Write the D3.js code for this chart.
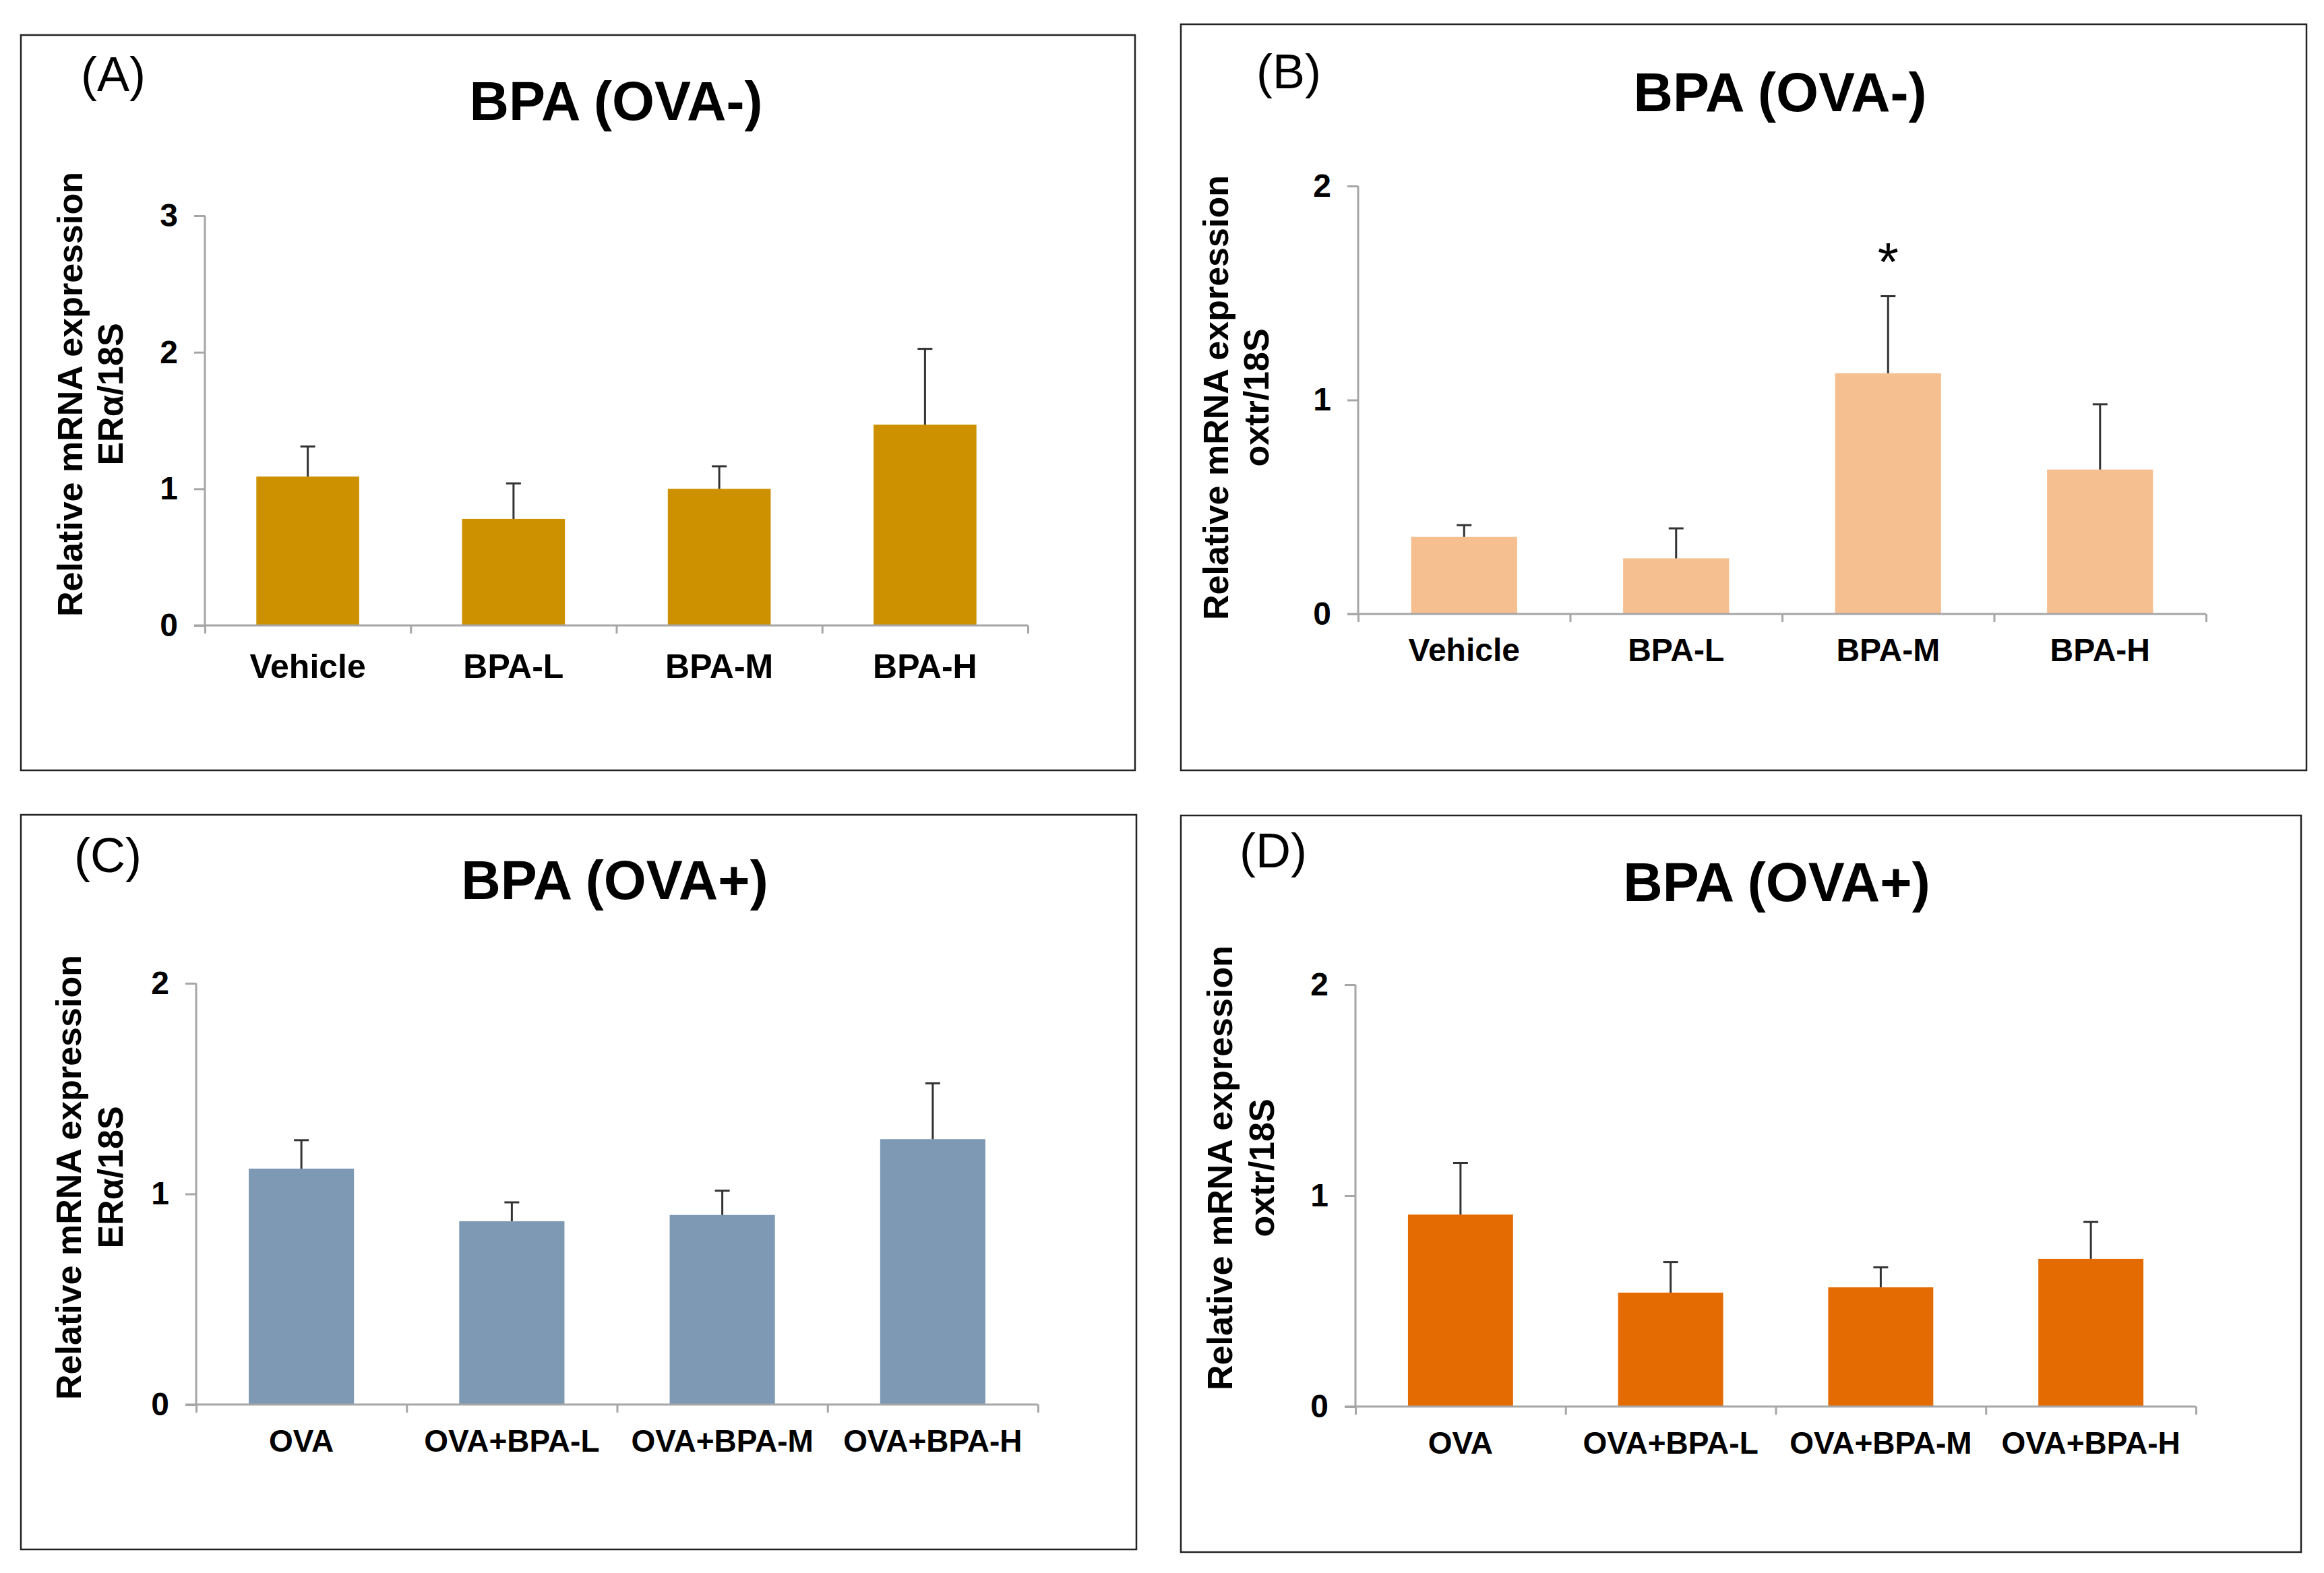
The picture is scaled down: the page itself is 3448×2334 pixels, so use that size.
<!DOCTYPE html>
<html>
<head>
<meta charset="utf-8">
<script src="https://cdn.jsdelivr.net/npm/d3@7"></script>
<style>
  body { margin: 0; background: #fff; }
  svg { display: block; }
  text { font-family: "Liberation Sans", Arial, sans-serif; }
</style>
</head>
<body>
<div id="viz"></div>
<script>
// categories
const catsOvaMinus = ["Vehicle", "BPA-L", "BPA-M", "BPA-H"];
const catsOvaPlus = ["OVA", "OVA+BPA-L", "OVA+BPA-M", "OVA+BPA-H"];

// (A) ERa/18S, OVA-
const meanA = [1.09, 0.78, 1.00, 1.47];
const errA = [0.22, 0.26, 0.165, 0.555];
// (B) oxtr/18S, OVA-
const meanB = [0.36, 0.26, 1.125, 0.675];
const errB = [0.055, 0.14, 0.36, 0.305];
const sigB = ["", "", "*", ""];
// (C) ERa/18S, OVA+
const meanC = [1.12, 0.87, 0.90, 1.26];
const errC = [0.135, 0.09, 0.115, 0.265];
// (D) oxtr/18S, OVA+
const meanD = [0.91, 0.54, 0.565, 0.70];
const errD = [0.245, 0.145, 0.095, 0.175];

const ticksA = [0, 1, 2, 3];
const ticks2 = [0, 1, 2];

const W = 3448, H = 2334;
const svg = d3.select("#viz").append("svg")
  .attr("width", W)
  .attr("height", H);

function drawPanel(p) {
  const g = svg.append("g");

  // frame
  g.append("rect")
    .attr("x", p.box[0]).attr("y", p.box[1])
    .attr("width", p.box[2] - p.box[0]).attr("height", p.box[3] - p.box[1])
    .attr("fill", "none").attr("stroke", "#222").attr("stroke-width", 2.5);

  // letter + title
  g.append("text")
    .attr("x", p.letterPos[0]).attr("y", p.letterPos[1])
    .style("font-size", "72px")
    .text(p.letter);

  g.append("text")
    .attr("x", p.titlePos[0]).attr("y", p.titlePos[1])
    .attr("text-anchor", "middle")
    .style("font-size", "81px")
    .style("font-weight", "bold")
    .text(p.title);

  const y = d3.scaleLinear().domain([0, d3.max(p.ticks)]).range([p.zero, p.top]);
  const x = d3.scaleBand().domain(p.cats).range([p.left, p.right])
    .paddingInner(0.5).paddingOuter(0.25);
  const xb = d3.scaleLinear().domain([0, p.cats.length]).range([p.left, p.right]);

  // bars
  g.selectAll("rect.bar")
    .data(p.cats)
    .enter()
    .append("rect")
    .attr("class", "bar")
    .attr("x", d => x(d))
    .attr("y", (d, i) => y(p.mean[i]))
    .attr("width", x.bandwidth())
    .attr("height", (d, i) => p.zero - y(p.mean[i]))
    .attr("fill", p.color);

  // upper error bars
  const eb = g.selectAll("g.err")
    .data(p.cats)
    .enter()
    .append("g")
    .attr("class", "err");
  eb.append("line")
    .attr("x1", d => x(d) + x.bandwidth() / 2)
    .attr("x2", d => x(d) + x.bandwidth() / 2)
    .attr("y1", (d, i) => y(p.mean[i]))
    .attr("y2", (d, i) => y(p.mean[i] + p.err[i]))
    .attr("stroke", "#333").attr("stroke-width", 3);
  eb.append("line")
    .attr("x1", d => x(d) + x.bandwidth() / 2 - 11)
    .attr("x2", d => x(d) + x.bandwidth() / 2 + 11)
    .attr("y1", (d, i) => y(p.mean[i] + p.err[i]))
    .attr("y2", (d, i) => y(p.mean[i] + p.err[i]))
    .attr("stroke", "#333").attr("stroke-width", 3);

  if (p.sig) {
    g.selectAll("text.sig")
      .data(p.cats)
      .enter()
      .append("text")
      .attr("class", "sig")
      .attr("x", d => x(d) + x.bandwidth() / 2)
      .attr("y", (d, i) => y(p.mean[i] + p.err[i]) - 24)
      .attr("text-anchor", "middle")
      .style("font-size", "80px")
      .text((d, i) => p.sig[i]);
  }

  // y axis
  const ya = g.append("g")
    .attr("transform", `translate(${p.left},0)`)
    .call(d3.axisLeft(y).tickValues(p.ticks).tickFormat(d3.format("d"))
      .tickSizeInner(16).tickSizeOuter(0).tickPadding(24));
  // x axis with category boundary ticks
  const xa = g.append("g")
    .attr("transform", `translate(0,${p.zero})`)
    .call(d3.axisBottom(xb).tickValues(d3.range(p.cats.length + 1)).tickFormat("")
      .tickSizeInner(12).tickSizeOuter(0));
  [ya, xa].forEach(a => {
    a.selectAll("path, line").attr("stroke", "#a6a6a6").attr("stroke-width", 3);
  });
  ya.select(".domain").attr("d", `M0,${p.top}V${p.zero}`);
  xa.select(".domain").attr("d", `M${p.left - 16},0H${p.right}`);
  ya.selectAll("text")
    .attr("fill", "#000")
    .style("font-size", "48px")
    .style("font-weight", "bold")
    .style("font-family", "'Liberation Sans', Arial, sans-serif");

  // category labels
  g.selectAll("text.cat")
    .data(p.cats)
    .enter()
    .append("text")
    .attr("class", "cat")
    .attr("x", d => x(d) + x.bandwidth() / 2)
    .attr("y", p.zero + p.catOffset)
    .attr("text-anchor", "middle")
    .style("font-size", p.catSize + "px")
    .style("font-weight", "bold")
    .text(d => d);

  // y label (two lines, rotated)
  const yl = g.append("g")
    .attr("transform", `translate(${p.ylabX},${p.ylabY}) rotate(-90)`);
  yl.append("text")
    .attr("text-anchor", "middle")
    .style("font-size", "52px")
    .style("font-weight", "bold")
    .text("Relative mRNA expression");
  yl.append("text")
    .attr("y", p.ylabGap)
    .attr("text-anchor", "middle")
    .style("font-size", "52px")
    .style("font-weight", "bold")
    .text(p.ylab2);
}

drawPanel({
  box: [31, 52, 1684, 1143], letter: "(A)", letterPos: [120, 135],
  title: "BPA (OVA-)", titlePos: [914, 178],
  left: 304, right: 1525, top: 320, zero: 928,
  cats: catsOvaMinus, mean: meanA, err: errA, ticks: ticksA, color: "#CD9100",
  catOffset: 78, catSize: 50,
  ylabX: 122, ylabY: 585, ylabGap: 60, ylab2: "ERα/18S"
});

drawPanel({
  box: [1752, 36, 3422, 1143], letter: "(B)", letterPos: [1864, 131],
  title: "BPA (OVA-)", titlePos: [2641, 165],
  left: 2015, right: 3273, top: 276, zero: 911,
  cats: catsOvaMinus, mean: meanB, err: errB, ticks: ticks2, color: "#F6BF8F",
  sig: sigB,
  catOffset: 70, catSize: 48,
  ylabX: 1822, ylabY: 590, ylabGap: 60, ylab2: "oxtr/18S"
});

drawPanel({
  box: [31, 1209, 1686, 2299], letter: "(C)", letterPos: [110, 1294],
  title: "BPA (OVA+)", titlePos: [912, 1334],
  left: 291, right: 1540, top: 1459, zero: 2084,
  cats: catsOvaPlus, mean: meanC, err: errC, ticks: ticks2, color: "#7E99B4",
  catOffset: 70, catSize: 46,
  ylabX: 120, ylabY: 1747, ylabGap: 62, ylab2: "ERα/18S"
});

drawPanel({
  box: [1752, 1210, 3414, 2303], letter: "(D)", letterPos: [1839, 1287],
  title: "BPA (OVA+)", titlePos: [2636, 1337],
  left: 2011, right: 3258, top: 1461, zero: 2087,
  cats: catsOvaPlus, mean: meanD, err: errD, ticks: ticks2, color: "#E46A02",
  catOffset: 70, catSize: 46,
  ylabX: 1828, ylabY: 1733, ylabGap: 62, ylab2: "oxtr/18S"
});
</script>
</body>
</html>
